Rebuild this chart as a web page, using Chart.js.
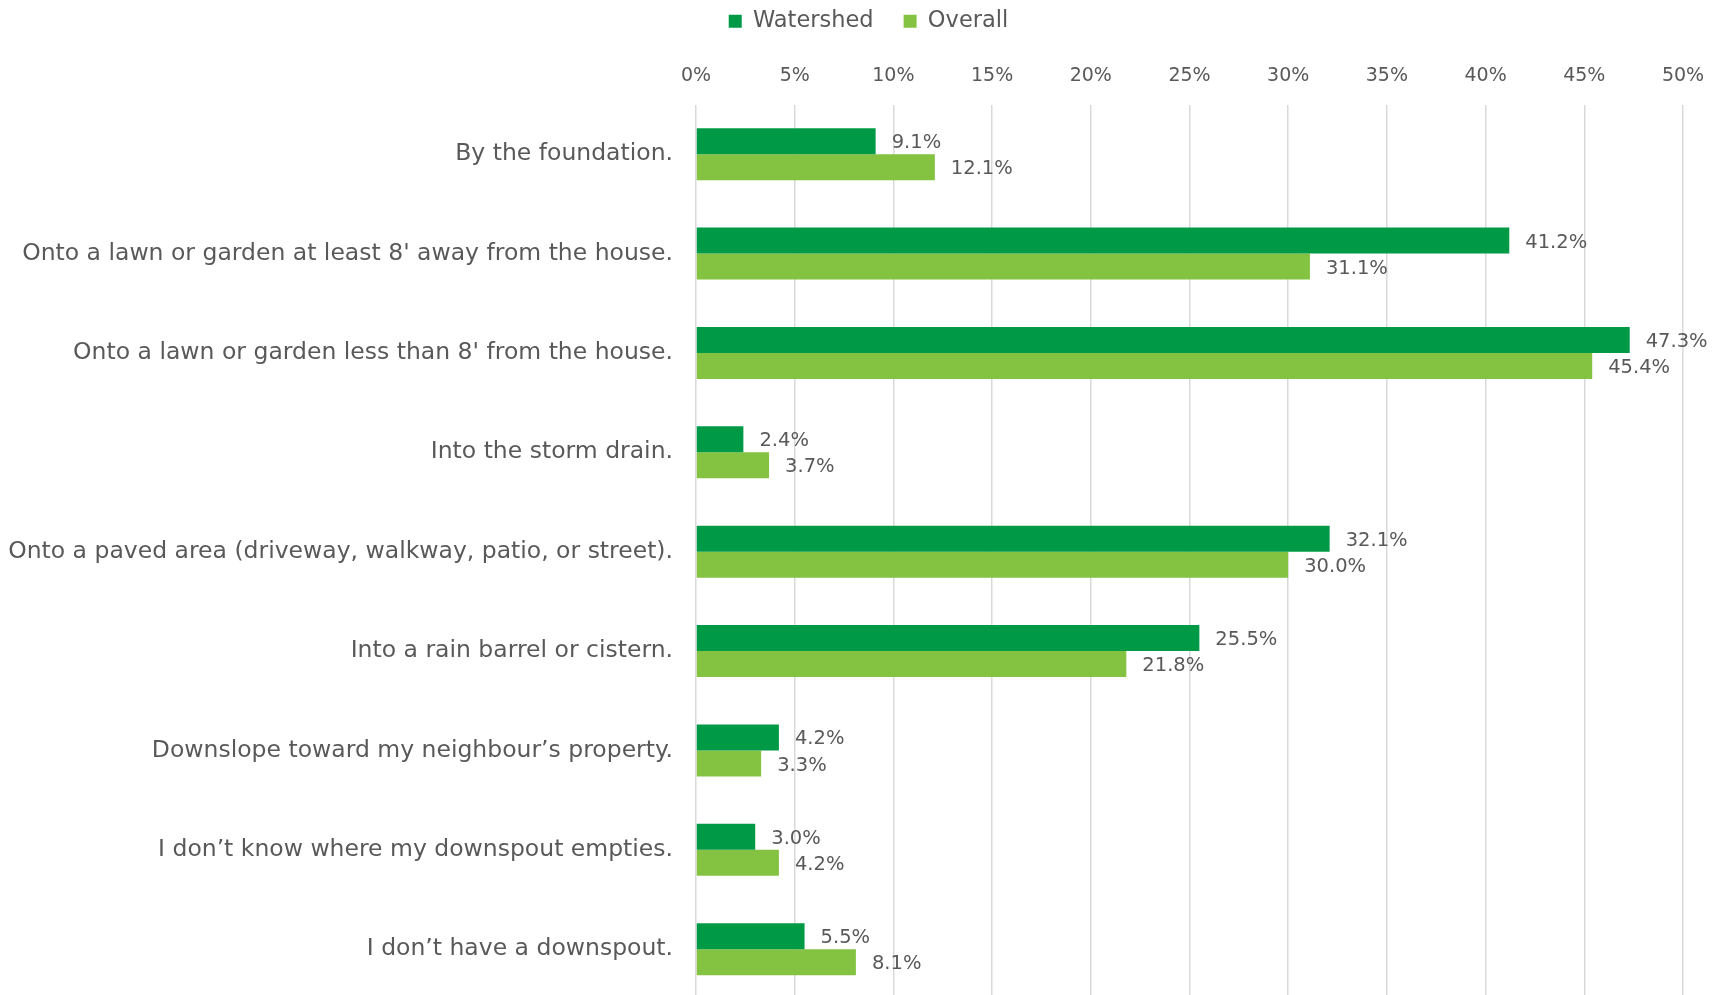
<!DOCTYPE html>
<html>
<head>
<meta charset="utf-8">
<script src="https://cdn.jsdelivr.net/npm/chart.js@4.4.1/dist/chart.umd.min.js"></script>
<style>
    html, body { margin: 0; padding: 0; background: #fff; overflow: hidden; }
    canvas { display: block; }
</style>
</head>
<body>
<canvas id="chart-downspout" width="1730" height="1028"></canvas>
<script>
const categories = [
    "By the foundation.",
    "Onto a lawn or garden at least 8' away from the house.",
    "Onto a lawn or garden less than 8' from the house.",
    "Into the storm drain.",
    "Onto a paved area (driveway, walkway, patio, or street).",
    "Into a rain barrel or cistern.",
    "Downslope toward my neighbour\u2019s property.",
    "I don\u2019t know where my downspout empties.",
    "I don\u2019t have a downspout.",
];
const watershed = [9.1, 41.2, 47.3, 2.4, 32.1, 25.5, 4.2, 3.0, 5.5];
const overall = [12.1, 31.1, 45.4, 3.7, 30.0, 21.8, 3.3, 4.2, 8.1];
const xMax = 50;
const xStep = 5;

const FONT = "'DejaVu Sans', sans-serif";
const TEXT = "#595959";

// value labels to the right of each bar
const barLabels = {
    id: "barLabels",
    afterDatasetsDraw(chart) {
        const ctx = chart.ctx;
        ctx.save();
        ctx.font = "19.5px " + FONT;
        ctx.fillStyle = TEXT;
        ctx.textAlign = "left";
        ctx.textBaseline = "middle";
        chart.data.datasets.forEach((ds, i) => {
            chart.getDatasetMeta(i).data.forEach((bar, j) => {
                ctx.fillText(ds.data[j].toFixed(1) + "%", bar.x + 16, bar.y + 2);
            });
        });
        ctx.restore();
    },
};

// legend sits centred over the whole canvas, not the padded box
const legendShift = {
    id: "legendShift",
    afterLayout(chart) {
        if (chart.legend) {
            chart.legend.left += 54;
        }
    },
};

const initChart = () => {
    const chart = new Chart(document.getElementById("chart-downspout"), {
        type: "bar",
        data: {
            labels: categories,
            datasets: [
                {
                    label: "Watershed",
                    data: watershed,
                    backgroundColor: "#009A47",
                    borderWidth: 0,
                },
                {
                    label: "Overall",
                    data: overall,
                    backgroundColor: "#84C341",
                    borderWidth: 0,
                },
            ],
        },
        options: {
            indexAxis: "y",
            responsive: false,
            animation: false,
            layout: {
                padding: { left: 0, right: 47, top: -20, bottom: 0 },
            },
            datasets: {
                bar: {
                    categoryPercentage: 0.524,
                    barPercentage: 1.0,
                },
            },
            plugins: {
                tooltip: { enabled: false },
                legend: {
                    position: "top",
                    labels: {
                        color: TEXT,
                        font: { family: FONT, size: 22.5 },
                        boxWidth: 13,
                        boxHeight: 13,
                        padding: 30,
                    },
                },
            },
            scales: {
                x: {
                    position: "top",
                    min: 0,
                    max: xMax,
                    ticks: {
                        stepSize: xStep,
                        padding: 17,
                        color: TEXT,
                        font: { family: FONT, size: 19 },
                        callback: (v) => v + "%",
                    },
                    grid: {
                        color: "#D9D9D9",
                        lineWidth: 1.5,
                        drawTicks: false,
                    },
                    border: { display: false },
                    afterFit: (scale) => {
                        const legendH = scale.chart.legend ? scale.chart.legend.height : 40;
                        scale.height = 124.5 - legendH;
                    },
                },
                y: {
                    ticks: {
                        padding: 15,
                        color: TEXT,
                        font: { family: FONT, size: 23.5 },
                    },
                    grid: { display: false },
                    border: { display: false },
                    afterFit: (scale) => {
                        scale.width = 696;
                    },
                },
            },
        },
        plugins: [barLabels, legendShift],
    });
    return chart;
};

window.chartDownspout = initChart();
</script>
</body>
</html>
